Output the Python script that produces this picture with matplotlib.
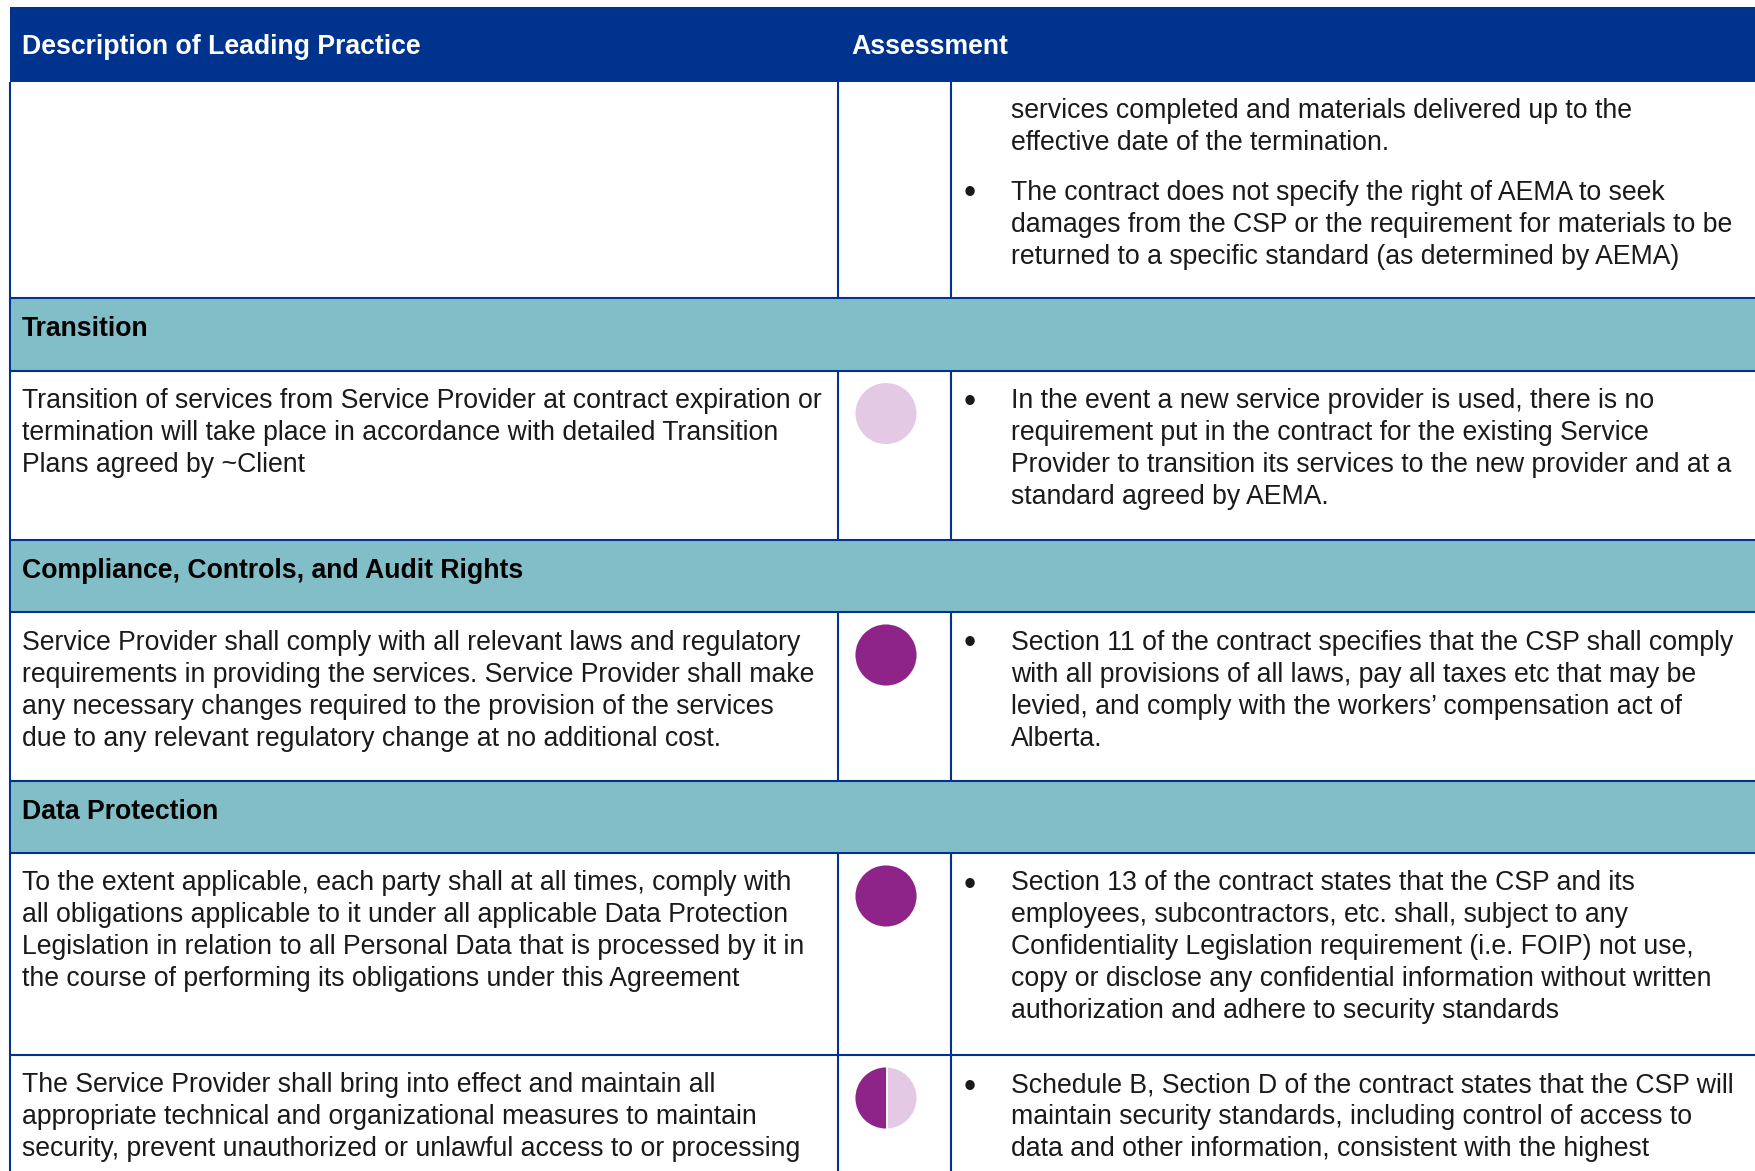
import matplotlib
matplotlib.use("Agg")
import matplotlib.pyplot as plt
from matplotlib.patches import Rectangle, Wedge

plt.rcParams['font.family'] = ['Liberation Sans', 'DejaVu Sans']

# ---------------- data ----------------
header_labels = ["Description of Leading Practice", "Assessment"]

section_titles = ["Transition",
                  "Compliance, Controls, and Audit Rights",
                  "Data Protection"]

practice_texts = [
    [],
    ["Transition of services from Service Provider at contract expiration or",
     "termination will take place in accordance with detailed Transition",
     "Plans agreed by ~Client"],
    ["Service Provider shall comply with all relevant laws and regulatory",
     "requirements in providing the services. Service Provider shall make",
     "any necessary changes required to the provision of the services",
     "due to any relevant regulatory change at no additional cost."],
    ["To the extent applicable, each party shall at all times, comply with",
     "all obligations applicable to it under all applicable Data Protection",
     "Legislation in relation to all Personal Data that is processed by it in",
     "the course of performing its obligations under this Agreement"],
    ["The Service Provider shall bring into effect and maintain all",
     "appropriate technical and organizational measures to maintain",
     "security, prevent unauthorized or unlawful access to or processing"],
]

# Harvey-ball ratings (fraction filled); None = no ball
ratings = [None, 0.0, 1.0, 1.0, 0.5]

# (bulleted?, lines)
assessment_texts = [
    [(False, ["services completed and materials delivered up to the",
              "effective date of the termination."]),
     (True, ["The contract does not specify the right of AEMA to seek",
             "damages from the CSP or the requirement for materials to be",
             "returned to a specific standard (as determined by AEMA)"])],
    [(True, ["In the event a new service provider is used, there is no",
             "requirement put in the contract for the existing Service",
             "Provider to transition its services to the new provider and at a",
             "standard agreed by AEMA."])],
    [(True, ["Section 11 of the contract specifies that the CSP shall comply",
             "with all provisions of all laws, pay all taxes etc that may be",
             "levied, and comply with the workers\u2019 compensation act of",
             "Alberta."])],
    [(True, ["Section 13 of the contract states that the CSP and its",
             "employees, subcontractors, etc. shall, subject to any",
             "Confidentiality Legislation requirement (i.e. FOIP) not use,",
             "copy or disclose any confidential information without written",
             "authorization and adhere to security standards"])],
    [(True, ["Schedule B, Section D of the contract states that the CSP will",
             "maintain security standards, including control of access to",
             "data and other information, consistent with the highest"])],
]

layout_order = [("row", 0), ("section", 0), ("row", 1), ("section", 1),
                ("row", 2), ("section", 2), ("row", 3), ("row", 4)]

# ---------------- layout / style ----------------
W, H = 1756, 1171
row_edges = [81.5, 298, 370.5, 540, 612, 781, 853, 1055, 1185]
header_top = 7
left_x = 10.5
col1_x = 838.5
col2_x = 951.5

NAVY = "#00338D"
TEAL = "#82BEC8"
DARK = "#8E2487"
LIGHT = "#E3C9E3"
TEXT = "#1a1a1a"

FS = 19.2
LINE = 32.0
PARA_GAP = 18.0
LW = 1.5

fig = plt.figure(figsize=(W / 100, H / 100), dpi=100)
ax = fig.add_axes([0, 0, 1, 1])
ax.set_xlim(0, W)
ax.set_ylim(H, 0)
ax.axis("off")

# header
ax.add_patch(Rectangle((left_x - 0.5, header_top), W - left_x + 1, row_edges[0] - header_top,
                       facecolor=NAVY, edgecolor="none", zorder=2))
ax.text(22, 54, header_labels[0], color="white", fontsize=FS, fontweight="bold",
        va="baseline", ha="left", zorder=3)
ax.text(851, 54, header_labels[1], color="white", fontsize=FS, fontweight="bold",
        va="baseline", ha="left", zorder=3)

for i, (kind, idx) in enumerate(layout_order):
    top, bot = row_edges[i], row_edges[i + 1]
    if kind == "section":
        ax.add_patch(Rectangle((left_x, top), W - left_x, bot - top,
                               facecolor=TEAL, edgecolor="none", zorder=1))
        ax.text(22, top + 38, section_titles[idx], color="black", fontsize=FS,
                fontweight="bold", va="baseline", ha="left", zorder=3)
    else:
        # vertical column lines
        for cx in (col1_x, col2_x):
            ax.plot([cx, cx], [top, bot], color=NAVY, lw=LW, zorder=4,
                    solid_capstyle="butt")
        first = top + (36 if i == 0 else 37.5)
        # left text
        y = first
        for line in practice_texts[idx]:
            ax.text(22, y, line, color=TEXT, fontsize=FS, va="baseline",
                    ha="left", zorder=3)
            y += LINE
        # rating ball
        r = ratings[idx]
        if r is not None:
            cx, cy, rad = 886, top + 43, 30.5
            ax.add_patch(Wedge((cx, cy), rad, 0, 360, facecolor=LIGHT,
                               edgecolor="none", zorder=3))
            if r > 0:
                ax.add_patch(Wedge((cx, cy), rad, 90, 90 + 360 * r,
                                   facecolor=DARK, edgecolor="none", zorder=3))
                if r < 1:
                    ax.plot([cx + 1, cx + 1], [cy - rad, cy + rad], color="white",
                            lw=1.2, zorder=3.5)
        # assessment text
        y = first
        for bulleted, lines in assessment_texts[idx]:
            if bulleted:
                ax.text(970, y + 4, "\u2022", color=TEXT, fontsize=FS * 1.3,
                        va="baseline", ha="center", zorder=3)
            for line in lines:
                ax.text(1011, y, line, color=TEXT, fontsize=FS, va="baseline",
                        ha="left", zorder=3)
                y += LINE
            y += PARA_GAP

# horizontal lines
for e in row_edges[1:-1]:
    ax.plot([left_x, W], [e, e], color=NAVY, lw=LW, zorder=4, solid_capstyle="butt")
# left border
ax.plot([left_x, left_x], [row_edges[0], H], color=NAVY, lw=LW, zorder=4,
        solid_capstyle="butt")

fig.savefig("out.png", dpi=100)
